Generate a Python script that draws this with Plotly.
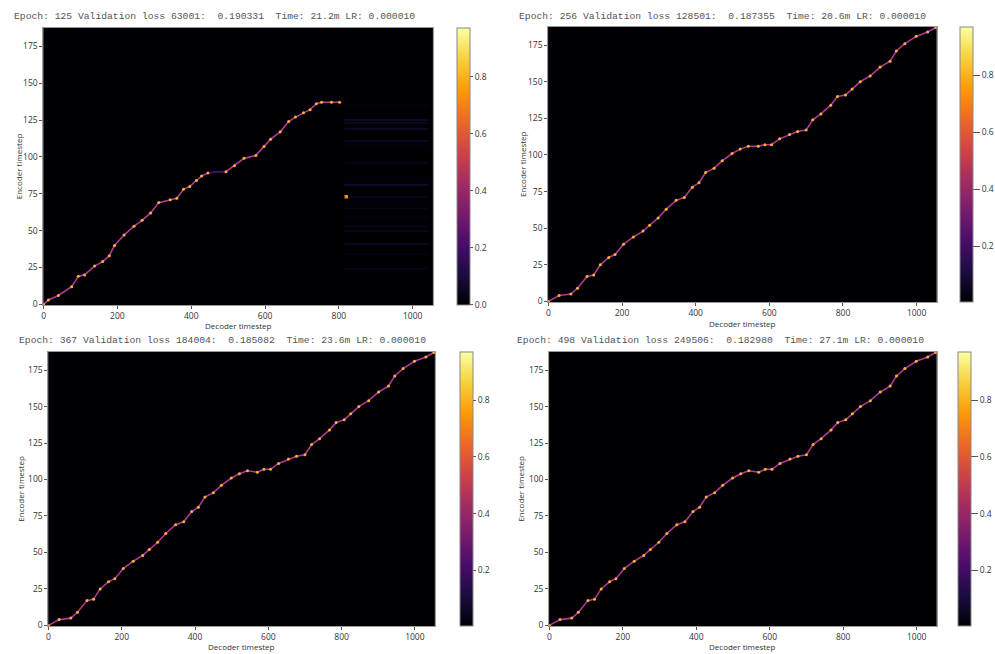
import plotly.graph_objects as go

W, H = 995, 654

# ---- attention alignment paths: (decoder step, encoder step) ----
# epoch 125: two pieces with a weak jump in between, then a stalled tail
dec_125a = [0, 13, 40, 76, 94, 111, 138, 160, 178, 192, 218, 245, 267, 290, 312, 343, 361, 379, 396, 414, 428, 445]
enc_125a = [0, 3, 6, 12, 19, 20, 26, 29, 33, 40, 47, 53, 57, 62, 69, 71, 72, 78, 80, 84, 87, 89]
dec_125b = [494, 517, 543, 575, 597, 615, 641, 664, 682, 704, 722, 739, 753, 780, 802]
enc_125b = [90, 94, 99, 101, 107, 112, 117, 124, 127, 130, 132, 136, 137, 137, 137]
gap_dec_125 = [445, 470, 494]
gap_enc_125 = [89, 90, 90]
# diffuse horizontal attention after the stall (encoder rows and weights)
tail_rows_125 = [135, 125, 123, 119, 111, 107, 96, 81, 73, 65, 59, 53, 50, 41, 34, 24]
tail_wts_125 = [0.04, 0.07, 0.05, 0.06, 0.05, 0.03, 0.03, 0.07, 0.04, 0.05, 0.04, 0.05, 0.04, 0.05, 0.04, 0.03]
tail_span_125 = [815, 1042]
spot_dec_125 = [820]
spot_enc_125 = [73]

dec_256 = [0, 29, 61, 79, 105, 123, 141, 164, 181, 204, 231, 257, 275, 298, 320, 347, 369, 391, 409,
           427, 450, 472, 499, 521, 543, 570, 588, 606, 628, 655, 677, 700, 718, 740, 767, 785, 807,
           825, 847, 874, 901, 928, 945, 968, 999, 1030, 1052]
enc_256 = [0, 4, 5, 9, 17, 18, 25, 30, 32, 39, 44, 48, 52, 57, 63, 69, 71, 78, 81,
           88, 91, 96, 101, 104, 106, 106, 107, 107, 111, 114, 116, 117, 124, 128, 134, 140, 141,
           145, 150, 154, 160, 164, 171, 176, 181, 184, 187]

dec_367 = [0, 29, 61, 79, 105, 123, 141, 164, 181, 204, 231, 257, 275, 298, 320, 347, 369, 391, 409,
           427, 450, 472, 499, 521, 543, 570, 588, 606, 628, 655, 677, 700, 718, 740, 767, 785, 807,
           825, 847, 874, 901, 928, 945, 968, 999, 1030, 1052]
enc_367 = [0, 4, 5, 9, 17, 18, 25, 30, 32, 39, 44, 48, 52, 57, 63, 69, 71, 78, 81,
           88, 91, 96, 101, 104, 106, 105, 107, 107, 111, 114, 116, 117, 124, 128, 134, 139, 141,
           145, 150, 154, 160, 164, 171, 176, 181, 184, 187]

dec_498 = [0, 29, 61, 79, 105, 123, 141, 164, 181, 204, 231, 257, 275, 298, 320, 347, 369, 391, 409,
           427, 450, 472, 499, 521, 543, 570, 588, 606, 628, 655, 677, 700, 718, 740, 767, 785, 807,
           825, 847, 874, 901, 928, 945, 968, 999, 1030, 1052]
enc_498 = [0, 4, 5, 9, 17, 18, 25, 30, 32, 39, 44, 48, 52, 57, 63, 69, 71, 78, 81,
           88, 91, 96, 101, 104, 106, 105, 107, 107, 111, 114, 116, 117, 124, 128, 134, 139, 141,
           145, 150, 154, 160, 164, 171, 176, 181, 184, 187]

titles = [
    "Epoch: 125 Validation loss 63001:  0.190331  Time: 21.2m LR: 0.000010",
    "Epoch: 256 Validation loss 128501:  0.187355  Time: 20.6m LR: 0.000010",
    "Epoch: 367 Validation loss 184004:  0.185082  Time: 23.6m LR: 0.000010",
    "Epoch: 498 Validation loss 249506:  0.182980  Time: 27.1m LR: 0.000010",
]

N_DEC = 1055
N_ENC = 188
x_ticks = [0, 200, 400, 600, 800, 1000]
y_ticks = [0, 25, 50, 75, 100, 125, 150, 175]
cb_ticks = [0.0, 0.2, 0.4, 0.6, 0.8]
Z_MAX = 0.97

# panel boxes in pixels: (left, right, top, bottom)
boxes = [(42, 437, 28, 307), (554, 948, 27, 304), (47, 439, 354, 630), (555, 948, 354, 630)]
cbar_left = [461, 972, 465, 970]
cbar_ticklen = [3, 7, 3, 7]
title_pos = [(10, 17), (522, 17), (15, 343), (520, 343)]
ylab_x = [17, 528, 19, 526]
xlab_y = [327, 325, 650, 650]

PATH_LINE = "#b13a8e"
PATH_DOT = "#fbae3a"

fig = go.Figure()

edges_y = [r - 0.5 for r in range(N_ENC + 1)]

# background attention maps
bg = []
# epoch 125 has weak horizontal streaks after the stall
z125 = []
for r in range(N_ENC):
    w = 0.0
    if r in tail_rows_125:
        w = tail_wts_125[tail_rows_125.index(r)]
    z125.append([0.0, w, 0.0])
bg.append(([-0.5, tail_span_125[0], tail_span_125[1], N_DEC - 0.5], z125, 0.0))
for _ in range(3):
    bg.append(([-0.5, N_DEC - 0.5], [[0.0] for _ in range(N_ENC)], 0.004))

paths = [
    [(dec_125a, enc_125a), (dec_125b, enc_125b)],
    [(dec_256, enc_256)],
    [(dec_367, enc_367)],
    [(dec_498, enc_498)],
]

font_tick = dict(family="Open Sans", size=8.5, color="#333")

for i in range(4):
    sfx = "" if i == 0 else str(i + 1)
    xa, ya = "x" + sfx, "y" + sfx
    l, r, t, b = boxes[i]
    xe, z, zmin = bg[i]
    fig.add_trace(go.Heatmap(
        x=xe, y=edges_y, z=z, zmin=zmin, zmax=Z_MAX,
        colorscale="Inferno", xaxis=xa, yaxis=ya, hoverinfo="skip",
        colorbar=dict(
            x=cbar_left[i] / W, xanchor="left", xref="paper",
            y=1 - (t + b) / 2 / H, yanchor="middle", yref="paper",
            len=(b - t) / H, lenmode="fraction",
            thickness=13, thicknessmode="pixels", xpad=0, ypad=0,
            outlinewidth=1, outlinecolor="#888",
            ticks="outside", ticklen=cbar_ticklen[i], tickcolor="#555",
            tickvals=cb_ticks, tickformat=".1f", tickfont=font_tick,
        ),
    ))
    if i == 0:
        fig.add_trace(go.Scatter(
            x=gap_dec_125, y=gap_enc_125, mode="lines",
            line=dict(color="#3c1262", width=2), xaxis=xa, yaxis=ya,
            showlegend=False, hoverinfo="skip"))
    for dx, ey in paths[i]:
        fig.add_trace(go.Scatter(
            x=dx, y=ey, mode="lines+markers",
            line=dict(color=PATH_LINE, width=1.6),
            marker=dict(color=PATH_DOT, size=3),
            xaxis=xa, yaxis=ya, showlegend=False, hoverinfo="skip"))
    if i == 0:
        fig.add_trace(go.Scatter(
            x=spot_dec_125, y=spot_enc_125, mode="markers",
            marker=dict(color="#f48a1f", size=3.5, symbol="square"),
            xaxis=xa, yaxis=ya, showlegend=False, hoverinfo="skip"))

    common = dict(ticks="outside", ticklen=3, tickwidth=1, tickcolor="#555",
                  showline=True, linecolor="#999", linewidth=1, mirror=True,
                  showgrid=False, zeroline=False, tickfont=font_tick)
    fig.layout["xaxis" + sfx] = dict(
        domain=[l / W, r / W], anchor=ya, range=[-0.5, N_DEC - 0.5],
        tickvals=x_ticks, **common)
    fig.layout["yaxis" + sfx] = dict(
        domain=[1 - b / H, 1 - t / H], anchor=xa, range=[-0.5, N_ENC - 0.5],
        tickvals=y_ticks, **common)

    tx, ty = title_pos[i]
    fig.add_annotation(text=titles[i], xref="paper", yref="paper",
                       x=tx / W, y=1 - ty / H, xanchor="left", yanchor="middle",
                       showarrow=False,
                       font=dict(family="Liberation Mono", size=9.7, color="#555"))
    fig.add_annotation(text="Decoder timestep", xref="paper", yref="paper",
                       x=(l + r) / 2 / W, y=1 - xlab_y[i] / H, xanchor="center",
                       yanchor="middle", showarrow=False,
                       font=dict(family="Open Sans", size=8, color="#333"))
    fig.add_annotation(text="Encoder timestep", xref="paper", yref="paper",
                       x=ylab_x[i] / W, y=1 - (t + b) / 2 / H, xanchor="center",
                       yanchor="middle", textangle=-90, showarrow=False,
                       font=dict(family="Open Sans", size=8, color="#333"))

fig.update_layout(
    width=W, height=H, margin=dict(l=0, r=0, t=0, b=0),
    paper_bgcolor="white", plot_bgcolor="#000004", showlegend=False,
)

fig.write_html("out.html")
